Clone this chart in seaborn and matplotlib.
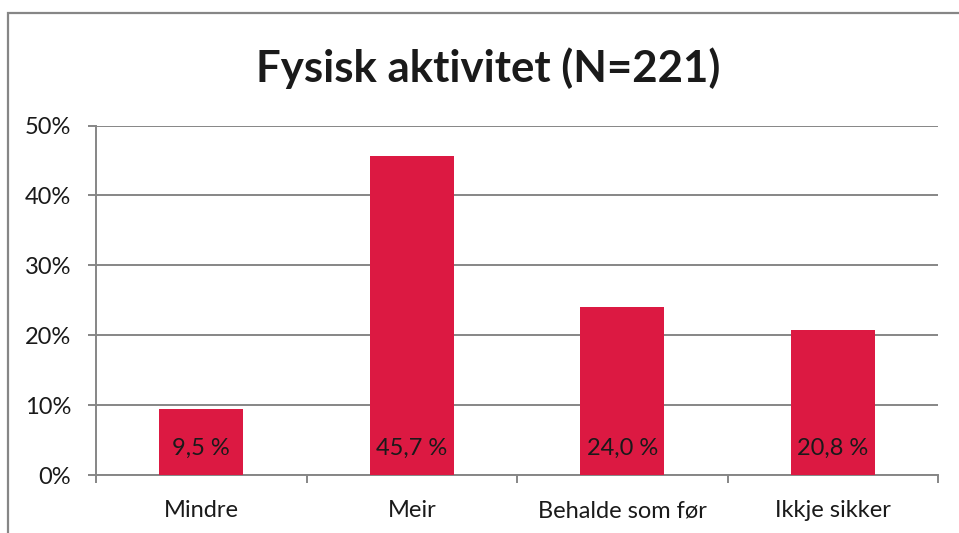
import matplotlib
matplotlib.use("Agg")
import matplotlib.pyplot as plt
import seaborn as sns
import pandas as pd
from matplotlib.patches import Rectangle
from matplotlib.ticker import FixedLocator

# Data
categories = ["Mindre", "Meir", "Behalde som før", "Ikkje sikker"]
values = [9.5, 45.7, 24.0, 20.8]
value_labels = ["9,5 %", "45,7 %", "24,0 %", "20,8 %"]
y_ticks = [0, 10, 20, 30, 40, 50]
y_tick_labels = ["0%", "10%", "20%", "30%", "40%", "50%"]

df = pd.DataFrame({"Svar": categories, "Andel": values})

sns.set_theme(style="white")
plt.rcParams["font.family"] = ["Lato", "DejaVu Sans"]

W, H = 959, 533
fig = plt.figure(figsize=(W / 100, H / 100), dpi=100)
ax = fig.add_axes([96 / W, (H - 475) / H, (938 - 96) / W, (475 - 125.5) / H])

grey = "#868686"
bar_color = "#DC1942"
text_color = "#1a1a1a"
fs = 17

sns.barplot(data=df, x="Svar", y="Andel", color=bar_color, width=0.4,
            saturation=1, linewidth=0, ax=ax, zorder=3)

ax.set_xlim(-0.5, len(categories) - 0.5)
ax.set_ylim(0, 50)
ax.set_yticks(y_ticks)
ax.set_yticklabels(y_tick_labels)
ax.set_xlabel("")
ax.set_ylabel("")

# horizontal gridlines
ax.yaxis.grid(True, color=grey, linewidth=1.4)
ax.set_axisbelow(True)

for side in ["top", "right"]:
    ax.spines[side].set_visible(False)
for side in ["left", "bottom"]:
    ax.spines[side].set_color(grey)
    ax.spines[side].set_linewidth(1.4)

# category boundaries as tick marks on the x axis
ax.xaxis.set_minor_locator(FixedLocator([i - 0.5 for i in range(len(categories) + 1)]))
ax.tick_params(axis="x", which="major", length=0, pad=18, labelsize=fs, labelcolor=text_color)
ax.tick_params(axis="x", which="minor", length=6, width=1.4, color=grey, direction="out", bottom=True)
ax.tick_params(axis="y", length=6, width=1.4, color=grey, direction="out", left=True,
               pad=12, labelsize=fs, labelcolor=text_color)

# value labels near the bar base
for i, lab in enumerate(value_labels):
    ax.annotate(lab, xy=(i, 0), xytext=(0, 19.5), textcoords="offset points",
                ha="center", va="center", fontsize=fs, color=text_color, zorder=4)

fig.text(488 / W, 1 - 68 / H, "Fysisk aktivitet (N=221)", ha="center", va="center",
         fontsize=31.5, fontweight="bold", color=text_color)

# outer chart border (left and top visible)
fig.patches.append(Rectangle((8 / W, -0.2), 1.2, 1.2 - 12.5 / H, transform=fig.transFigure,
                             fill=False, edgecolor=grey, linewidth=1.6))

fig.savefig("out.png", dpi=100)
